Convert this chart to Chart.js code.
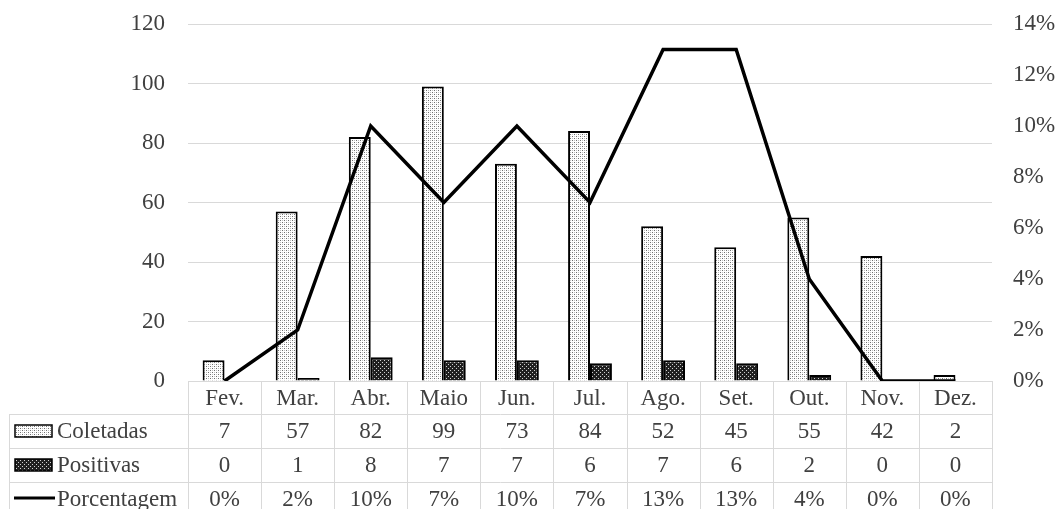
<!DOCTYPE html>
<html>
<head>
<meta charset="utf-8">
<script src="https://cdn.jsdelivr.net/npm/chart.js@4"></script>
<style>
  html, body { margin: 0; padding: 0; background: #fff; }
  #wrap { width: 1061px; height: 509px; }
</style>
</head>
<body>
<div id="wrap"><canvas id="chart" width="1061" height="509"></canvas></div>
<script>
const meses = ["Fev.", "Mar.", "Abr.", "Maio", "Jun.", "Jul.", "Ago.", "Set.", "Out.", "Nov.", "Dez."]
const coletadas = [7, 57, 82, 99, 73, 84, 52, 45, 55, 42, 2]
const positivas = [0, 1, 8, 7, 7, 6, 7, 6, 2, 0, 0]
const porcentagem = [0, 2, 10, 7, 10, 7, 13, 13, 4, 0, 0]
const ticksEsq = [0, 20, 40, 60, 80, 100, 120]
const ticksDir = [0, 2, 4, 6, 8, 10, 12, 14]

const FONT = "Liberation Serif, Times New Roman, serif"
const FSIZE = 23
const TEXT = "#404040"
const GRID = "#d9d9d9"

// hatch fills like the office patterns
function makePattern(dark) {
  const c = document.createElement("canvas")
  c.width = 4
  c.height = 4
  const g = c.getContext("2d")
  g.fillStyle = dark ? "#202020" : "#ffffff"
  g.fillRect(0, 0, 4, 4)
  g.fillStyle = dark ? "#d0d0d0" : "#707070"
  g.fillRect(0, 0, 1, 1)
  g.fillRect(2, 2, 1, 1)
  if (!dark) {
    g.fillStyle = "#c0c0c0"
    g.fillRect(2, 0, 1, 1)
    g.fillRect(0, 2, 1, 1)
  }
  return g.createPattern(c, "repeat")
}

const ctx = document.getElementById("chart").getContext("2d")
const patColetadas = makePattern(false)
const patPositivas = makePattern(true)

// fixed axis width, no label overflow padding
function fitAxis(width) {
  return (s) => {
    s.width = width
    s.paddingTop = 0
    s.paddingBottom = 0
  }
}

// data table under the plot area
const tabelaPlugin = {
  id: "tabela",
  afterDraw(chart) {
    const c = chart.ctx
    const area = chart.chartArea
    const x = chart.scales.x
    const step = (area.right - area.left) / meses.length
    const rows = [area.bottom, 414, 448, 482, 516]
    const leftEdge = 9

    c.save()
    c.strokeStyle = GRID
    c.lineWidth = 1
    c.beginPath()
    // horizontal lines
    c.moveTo(area.left, rows[0] + 0.5)
    c.lineTo(area.right, rows[0] + 0.5)
    for (let i = 1; i < rows.length - 1; i++) {
      c.moveTo(leftEdge, rows[i] + 0.5)
      c.lineTo(area.right, rows[i] + 0.5)
    }
    // vertical lines
    for (let i = 0; i <= meses.length; i++) {
      const px = Math.round(area.left + i * step) + 0.5
      c.moveTo(px, rows[0])
      c.lineTo(px, 509)
    }
    c.moveTo(leftEdge + 0.5, rows[1])
    c.lineTo(leftEdge + 0.5, 509)
    c.stroke()

    c.fillStyle = TEXT
    c.font = FSIZE + "px " + FONT
    c.textAlign = "center"
    c.textBaseline = "middle"
    const linhas = [
      meses,
      coletadas.map(String),
      positivas.map(String),
      porcentagem.map((v) => v + "%"),
    ]
    linhas.forEach((vals, r) => {
      const cy = (rows[r] + rows[r + 1]) / 2
      vals.forEach((v, i) => c.fillText(v, x.getPixelForValue(i), cy + 1))
    })

    // row labels with legend keys
    c.textAlign = "left"
    const labels = ["Coletadas", "Positivas", "Porcentagem"]
    labels.forEach((lab, i) => {
      const cy = (rows[i + 1] + rows[i + 2]) / 2
      if (i < 2) {
        c.fillStyle = i === 0 ? patColetadas : patPositivas
        c.fillRect(15, cy - 6, 37, 12)
        c.strokeStyle = "#000"
        c.lineWidth = 1.5
        c.strokeRect(15, cy - 6, 37, 12)
        c.fillStyle = TEXT
        c.fillText(lab, 57, cy + 1)
      } else {
        c.strokeStyle = "#000"
        c.lineWidth = 3
        c.beginPath()
        c.moveTo(14, cy - 1)
        c.lineTo(55, cy - 1)
        c.stroke()
        c.fillStyle = TEXT
        c.fillText(lab, 57, cy + 1)
      }
    })
    c.restore()
  },
}

new Chart(ctx, {
  data: {
    labels: meses,
    datasets: [
      {
        type: "line",
        label: "Porcentagem",
        data: porcentagem,
        yAxisID: "y1",
        borderColor: "#000",
        borderWidth: 3.5,
        pointRadius: 0,
        tension: 0,
        order: 0,
      },
      {
        type: "bar",
        label: "Coletadas",
        data: coletadas,
        yAxisID: "y",
        backgroundColor: patColetadas,
        borderColor: "#000",
        borderWidth: 2,
        barPercentage: 1,
        categoryPercentage: 0.6,
        order: 1,
      },
      {
        type: "bar",
        label: "Positivas",
        data: positivas,
        yAxisID: "y",
        backgroundColor: patPositivas,
        borderColor: "#000",
        borderWidth: 2,
        barPercentage: 1,
        categoryPercentage: 0.6,
        order: 1,
      },
    ],
  },
  options: {
    responsive: false,
    animation: false,
    layout: { padding: { top: 24, bottom: 128, left: 0, right: 0 } },
    plugins: {
      legend: { display: false },
      tooltip: { enabled: false },
    },
    scales: {
      x: {
        ticks: { display: false },
        grid: { display: false },
        border: { display: false },
        afterFit: (s) => { s.height = 0 },
      },
      y: {
        position: "left",
        min: 0,
        max: 120,
        afterBuildTicks: (s) => { s.ticks = ticksEsq.map((v) => ({ value: v })) },
        afterFit: fitAxis(188),
        ticks: {
          padding: 23,
          color: TEXT,
          font: { family: FONT, size: FSIZE },
        },
        grid: { color: GRID, lineWidth: 1, drawTicks: false },
        border: { display: false },
      },
      y1: {
        position: "right",
        min: 0,
        max: 14,
        afterBuildTicks: (s) => { s.ticks = ticksDir.map((v) => ({ value: v })) },
        afterFit: fitAxis(69),
        ticks: {
          padding: 21,
          color: TEXT,
          font: { family: FONT, size: FSIZE },
          callback: (v) => v + "%",
        },
        grid: { display: false, drawTicks: false },
        border: { display: false },
      },
    },
  },
  plugins: [tabelaPlugin],
})
</script>
</body>
</html>
